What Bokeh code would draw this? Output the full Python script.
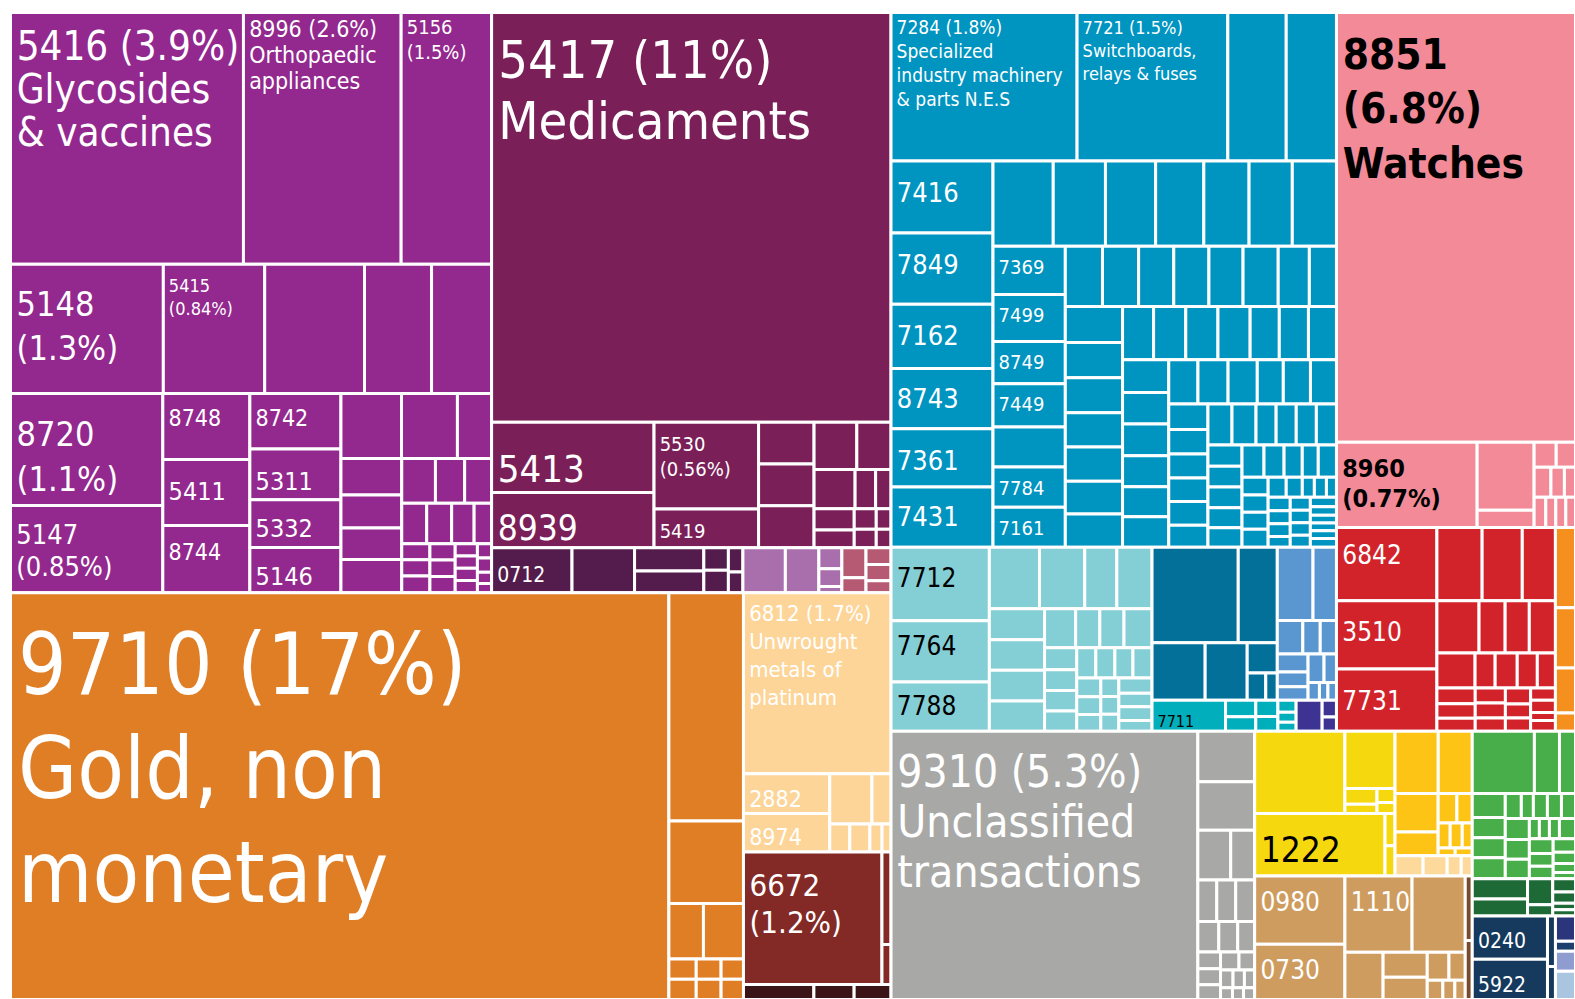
from bokeh.plotting import figure
from bokeh.models import ColumnDataSource, Range1d
from bokeh.core.properties import value
from bokeh.embed import file_html
from bokeh.resources import INLINE

# ---------------- data (relative export values) ----------------
purple_codes = ["5416", "8996", "5156", "5148", "5415", "", "", "", "8720", "5147",
                "8748", "5411", "8744", "8742", "5311", "5332", "5146"]
purple_values = [58.2, 39.4, 22.6, 19.6, 13.0, 12.8, 8.6, 7.7, 16.9, 13.2, 5.7, 5.7, 5.8,
                 5.0, 4.6, 4.3, 4.1, 3.9, 3.6, 2.2, 2.2, 2.0, 1.9, 2.0, 1.5, 1.3, 1.2,
                 1.0, 1.0, 0.9, 0.7, 0.45, 0.45, 0.47, 0.41, 0.41, 0.41, 0.27, 0.27,
                 0.27, 0.27, 0.2, 0.2, 0.16, 0.13]
medic_codes = ["5417", "5413", "8939", "5530", "5419"]
medic_values = [162.4, 11.3, 8.9, 9.0, 4.0, 2.3, 2.3, 2.3, 2.0, 1.6, 1.6, 0.8, 0.6,
                0.85, 0.7, 0.45, 0.4, 0.3, 0.27]
g0712_codes = ["0712"]
g0712_values = [3.6, 2.8, 1.6, 1.5, 0.55, 0.55, 0.35, 0.3]
lilac_values = [1.9, 1.5, 0.48, 0.41, 0.14]
mauve_values = [0.72, 0.36, 0.42, 0.4, 0.3]
gold_codes = ["9710"]
gold_values = [265.7, 16.9, 6.1, 1.9, 2.2, 0.55, 0.55, 0.5, 0.5, 0.45, 0.45]
peach_codes = ["6812", "2882", "8974"]
peach_values = [26.5, 3.4, 3.3, 2.1, 0.95, 0.56, 0.56, 0.34, 0.25]
pearl_codes = ["6672"]
pearl_values = [18.2, 0.83, 0.36]
darkred_values = [1.05, 0.6, 0.55]
blue_codes = ["7284", "7721", "", "", "7416", "7849", "7162", "8743", "7361", "7431",
              "", "", "", "", "", "", "", "7369", "7499", "8749", "7449", "", "7784", "7161"]
blue_values = [27.4, 22.2, 8.6, 7.4, 7.3, 7.2, 6.5, 6.1, 5.9, 6.1,
               5.1, 4.42, 4.25, 4.08, 3.83, 3.66, 3.74,
               3.46, 3.38, 3.02, 3.1, 2.88, 2.88, 2.88,
               2.22, 2.16, 2.1, 2.1, 2.04, 2.1, 1.86, 1.62,
               2.05, 2.0, 1.98, 1.95, 1.95, 1.85, 1.9,
               1.64, 1.7, 1.7, 1.7, 1.54, 1.54, 1.48,
               1.5, 1.45, 1.45, 1.42, 1.38, 1.4,
               1.28, 1.32, 1.28, 1.14, 1.19, 1.14,
               1.0, 0.95, 0.93, 0.92, 0.92, 0.86,
               0.98, 0.98, 0.82, 0.82, 0.82, 0.82,
               0.72, 0.7, 0.7, 0.68, 0.66,
               0.7, 0.64, 0.58, 0.51, 0.58,
               0.46, 0.45, 0.44, 0.47,
               0.36, 0.32, 0.24, 0.24, 0.2,
               0.3, 0.28, 0.28, 0.24,
               0.26, 0.25, 0.25, 0.24,
               0.25, 0.22, 0.2, 0.2, 0.2, 0.23]
cyan_codes = ["7712", "7764", "7788"]
cyan_values = [7.15, 5.98, 4.8, 3.05, 2.75, 1.95, 2.14, 1.7, 1.68, 1.68, 1.65, 1.21, 0.94,
               0.94, 1.09, 0.7, 0.66, 0.66, 0.64, 0.57, 0.57, 0.54, 0.57, 0.45, 0.42, 0.4,
               0.33, 0.32, 0.3, 0.5, 0.45, 0.45, 0.35]
darkblue_values = [8.17, 3.7, 3.02, 2.39, 0.9, 0.5, 0.31]
medblue_values = [2.59, 1.7, 0.85, 0.58, 0.54, 0.55, 0.45, 0.41, 0.45, 0.35, 0.2, 0.15, 0.15]
teal_codes = ["7711"]
teal_values = [2.26, 0.5, 0.43, 0.36, 0.32, 0.22, 0.18, 0.16]
indigo_values = [0.8, 0.24, 0.2]
pink_codes = ["8851", "8960"]
pink_values = [101.9, 11.9, 3.85, 0.97, 0.55, 0.48, 0.5, 0.4, 0.33, 0.35, 0.3, 0.3, 0.29]
red_codes = ["6842", "3510", "7731"]
red_values = [7.3, 6.8, 6.2, 3.29, 2.92, 2.41, 2.18, 1.35, 1.25, 1.35, 1.33, 0.7, 0.77,
              0.7, 0.63, 0.6, 0.55, 0.49, 0.45, 0.45, 0.39, 0.4, 0.35, 0.33, 0.3, 0.3,
              0.2, 0.26]
orange_values = [1.6, 1.2, 0.9, 0.36]
gray_codes = ["9310"]
gray_values = [81.7, 2.85, 2.74, 1.62, 1.18, 0.78, 0.78, 0.78, 0.63, 0.57, 0.51, 0.38,
               0.36, 0.33, 0.33, 0.28, 0.22, 0.2, 0.18, 0.14, 0.13, 0.13]
yellow_codes = ["", "", "", "", "", "", "1222"]
yellow_values = [7.38, 2.85, 0.5, 0.3, 0.25, 0.2, 8.06, 0.32, 0.3]
yorange_values = [2.67, 2.1, 1.65, 1.02, 0.55, 0.45, 0.3, 0.3, 0.25, 0.13, 0.13]
peach2_values = [0.56, 0.48, 0.28, 0.22]
tan_codes = ["0980", "0730", "1110"]
tan_values = [6.12, 4.95, 5.09, 4.03, 1.79, 1.1, 0.97, 0.6, 0.45, 0.3, 0.23, 0.2]
brown_values = [0.45, 0.41]
green_values = [3.84, 1.55, 0.99, 0.79, 0.66, 0.66, 0.69, 0.4, 0.3, 0.35, 0.35, 0.35, 0.5,
                0.47, 0.47, 0.2, 0.2, 0.2, 0.32, 0.35, 0.3, 0.3, 0.3, 0.25, 0.2, 0.14]
dgreen_values = [1.1, 0.94, 0.65, 0.28, 0.3, 0.25, 0.15, 0.14]
navy_codes = ["0240", "5922"]
navy_values = [3.23, 3.0, 0.4, 0.26]
misc_values = [0.5, 0.2, 0.4, 0.56]

shares = {"5416": "3.9%", "8996": "2.6%", "5156": "1.5%", "5148": "1.3%", "5415": "0.84%",
          "8720": "1.1%", "5147": "0.85%", "5417": "11%", "5530": "0.56%", "9710": "17%",
          "6812": "1.7%", "6672": "1.2%", "7284": "1.8%", "7721": "1.5%", "8851": "6.8%",
          "8960": "0.77%", "9310": "5.3%"}
names = {"5416": ["Glycosides", "& vaccines"], "8996": ["Orthopaedic", "appliances"],
         "5417": ["Medicaments"], "9710": ["Gold, non", "monetary"],
         "6812": ["Unwrought", "metals of", "platinum"],
         "7284": ["Specialized", "industry machinery", "& parts N.E.S"],
         "7721": ["Switchboards,", "relays & fuses"], "8851": ["Watches"],
         "9310": ["Unclassified", "transactions"]}

# ---------------- styles ----------------
palette = {"purple": "#93288E", "medic": "#7B1F58", "g0712": "#531C4D", "lilac": "#A96FAD",
           "mauve": "#B65A73", "gold": "#E07E26", "peach": "#FDD598", "pearl": "#832A27",
           "darkred": "#3B1417", "blue": "#0094C1", "cyan": "#84CED5", "darkblue": "#03709A",
           "medblue": "#5A96CF", "teal": "#00AFBB", "indigo": "#3C3393", "pink": "#F28B97",
           "red": "#D2232B", "orange": "#F5901F", "gray": "#A8A9A6", "yellow": "#F6D80F",
           "yorange": "#FDC416", "peach2": "#FDDA9B", "tan": "#CF9C5F", "brown": "#7A4A2A",
           "green": "#47AE49", "dgreen": "#1D6A37", "navy": "#153A5E",
           "misc": ["#2A357B", "#1E3F6E", "#8F9CD0", "#A9C5DF"]}

W_, K_ = "white", "black"
# label style: size px, first baseline offset, line lead, share on own line, colour, bold
label_style = {
    "5416": (40, 46, 43, False, W_, False), "8996": (23, 24, 26, False, W_, False),
    "5156": (20, 21, 25, True, W_, False), "5148": (34, 50, 45, True, W_, False),
    "5415": (18, 27, 23, True, W_, False), "8720": (34, 51, 45, True, W_, False),
    "5147": (27, 37, 33, True, W_, False), "8748": (23, 31, 0, False, W_, False),
    "5411": (25, 39, 0, False, W_, False), "8744": (23, 33, 0, False, W_, False),
    "8742": (23, 31, 0, False, W_, False), "5311": (25, 40, 0, False, W_, False),
    "5332": (25, 36, 0, False, W_, False), "5146": (25, 37, 0, False, W_, False),
    "5417": (52, 64, 61, False, W_, False), "5413": (38, 58, 0, False, W_, False),
    "8939": (35, 46, 0, False, W_, False), "5530": (20, 28, 25, True, W_, False),
    "5419": (20, 28, 0, False, W_, False), "0712": (21, 33, 0, False, W_, False),
    "9710": (85, 99, 104, False, W_, False), "6812": (22, 28, 28, False, W_, False),
    "2882": (23, 32, 0, False, W_, False), "8974": (23, 30, 0, False, W_, False),
    "6672": (31, 43, 37, True, W_, False), "7284": (19, 21, 24, False, W_, False),
    "7721": (18, 21, 23, False, W_, False),
    "7416": (27, 40, 0, False, W_, False), "7849": (27, 40, 0, False, W_, False),
    "7162": (27, 39, 0, False, W_, False), "8743": (27, 38, 0, False, W_, False),
    "7361": (27, 40, 0, False, W_, False), "7431": (27, 38, 0, False, W_, False),
    "7369": (20, 27, 0, False, W_, False), "7499": (20, 27, 0, False, W_, False),
    "8749": (20, 27, 0, False, W_, False), "7449": (20, 27, 0, False, W_, False),
    "7784": (20, 27, 0, False, W_, False), "7161": (20, 27, 0, False, W_, False),
    "8851": (42, 54, 55, True, K_, True), "8960": (25, 34, 30, True, K_, True),
    "6842": (26, 35, 0, False, W_, False), "3510": (26, 39, 0, False, W_, False),
    "7731": (26, 39, 0, False, W_, False),
    "7712": (26, 38, 0, False, K_, False), "7764": (26, 33, 0, False, K_, False),
    "7788": (26, 31, 0, False, K_, False), "7711": (16, 26, 0, False, K_, False),
    "9310": (44, 54, 50, False, W_, False), "1222": (35, 47, 0, False, K_, False),
    "0980": (26, 33, 0, False, W_, False), "1110": (26, 33, 0, False, W_, False),
    "0730": (26, 33, 0, False, W_, False), "0240": (21, 31, 0, False, W_, False),
    "5922": (21, 31, 0, False, W_, False),
}
FONT = "DejaVu Sans Condensed, sans-serif"
BASE_SHIFT = 0.32  # font-size fraction: browser baseline correction


def strips(spec):
    out, i = [], 0
    for d, n in spec:
        out.append((d, list(range(i, i + n))))
        i += n
    return ("s", out)


layouts = {
    "purple": ("v", [("h", [0, 1, 2]), ("h", [3, 4, 5, 6, 7]),
                     ("h", [("v", [8, 9]), ("v", [10, 11, 12]), ("v", [13, 14, 15, 16]),
                            ("v", [("h", [17, 18, 19]),
                                   ("h", [("v", [20, 21, 22, 23]),
                                          ("v", [("h", [24, 25, 26]), ("h", [27, 28, 29, 30]),
                                                 ("h", [("v", [31, 32, 33]), ("v", [34, 35, 36]),
                                                        ("v", [37, 38, 39, 40]),
                                                        ("v", [41, 42, 43, 44])])])])])])]),
    "medic": ("v", [0, ("h", [("v", [1, 2]), ("v", [3, 4]), ("v", [5, 6, 7]),
                              ("v", [("h", [8, 9]), ("h", [10, 11, 12]),
                                     ("h", [("v", [13, 14]), ("v", [15, 16]), ("v", [17, 18])])])])]),
    "g0712": ("h", [0, 1, ("v", [2, 3]), ("v", [4, 5]), ("v", [6, 7])]),
    "lilac": ("h", [0, 1, ("v", [2, 3, 4])]),
    "mauve": ("h", [("v", [0, 1]), ("v", [2, 3, 4])]),
    "gold": ("h", [0, ("v", [1, 2, ("h", [3, 4]),
                             ("h", [("v", [5, 6]), ("v", [7, 8]), ("v", [9, 10])])])]),
    "peach": ("v", [0, ("h", [("v", [1, 2]), ("v", [("h", [3, 4]), ("h", [5, 6, 7, 8])])])]),
    "pearl": ("h", [0, ("v", [1, 2])]),
    "darkred": ("h", [0, 1, 2]),
    "blue": strips([("row", 4), ("col", 6), ("row", 7), ("col", 7), ("row", 8), ("col", 7),
                    ("row", 7), ("col", 6), ("row", 6), ("col", 6), ("row", 6), ("col", 5),
                    ("row", 5), ("col", 4), ("row", 5), ("col", 4), ("col", 4), ("col", 6)]),
    "cyan": strips([("col", 3), ("row", 4), ("col", 4), ("row", 4), ("col", 4), ("row", 4),
                    ("col", 3), ("col", 3), ("col", 4)]),
    "darkblue": ("v", [("h", [0, 1]), ("h", [2, 3, ("v", [4, ("h", [5, 6])])])]),
    "medblue": ("v", [("h", [0, 1]), ("h", [2, 3, 4]),
                      ("h", [("v", [5, 6, 7]), ("v", [("h", [8, 9]), ("h", [10, 11, 12])])])]),
    "teal": ("h", [0, ("v", [1, 2]), ("v", [3, 4]), ("v", [5, 6, 7])]),
    "indigo": ("h", [0, ("v", [1, 2])]),
    "pink": ("v", [0, ("h", [1, ("v", [2, 3]),
                             ("v", [("h", [4, 5]), ("h", [6, 7, 8]), ("h", [9, 10, 11, 12])])])]),
    "red": strips([("col", 3), ("row", 3), ("row", 4), ("row", 5), ("col", 3), ("col", 3),
                   ("col", 3), ("col", 4)]),
    "orange": ("v", [0, 1, 2, 3]),
    "gray": ("h", [0, ("v", [1, 2, ("h", [3, 4]), ("h", [5, 6, 7]), ("h", [8, 9, 10]),
                             ("h", [("v", [11, 12, 13]),
                                    ("v", [("h", [14, 15]), ("h", [16, 17, 18]), ("h", [19, 20, 21])])])])]),
    "yellow": ("v", [("h", [0, ("v", [1, ("h", [("v", [2, 3]), ("v", [4, 5])])])]),
                     ("h", [6, ("v", [7, 8])])]),
    "yorange": ("v", [("h", [0, 1]), ("h", [("v", [2, 3]),
                                           ("v", [("h", [4, 5]), ("h", [6, 7, 8]), ("h", [9, 10])])])]),
    "peach2": ("h", [0, 1, 2, 3]),
    "tan": ("h", [("v", [0, 1]), ("v", [("h", [2, 3]),
                                        ("h", [4, ("v", [5, 6]), ("v", [("h", [7, 8]), ("h", [9, 10, 11])])])])]),
    "brown": ("v", [0, 1]),
    "green": strips([("row", 3), ("col", 4), ("row", 5), ("col", 3), ("row", 4), ("col", 3), ("col", 4)]),
    "dgreen": ("h", [("v", [0, 1]), ("v", [2, 3]), ("v", [4, 5, 6, 7])]),
    "navy": ("h", [("v", [0, 1]), ("v", [2, 3])]),
    "misc": ("v", [0, 1, 2, 3]),
}

groups = {
    "purple": (purple_codes, purple_values), "medic": (medic_codes, medic_values),
    "g0712": (g0712_codes, g0712_values), "lilac": ([], lilac_values), "mauve": ([], mauve_values),
    "gold": (gold_codes, gold_values), "peach": (peach_codes, peach_values),
    "pearl": (pearl_codes, pearl_values), "darkred": ([], darkred_values),
    "blue": (blue_codes, blue_values), "cyan": (cyan_codes, cyan_values),
    "darkblue": ([], darkblue_values), "medblue": ([], medblue_values),
    "teal": (teal_codes, teal_values), "indigo": ([], indigo_values),
    "pink": (pink_codes, pink_values), "red": (red_codes, red_values),
    "orange": ([], orange_values), "gray": (gray_codes, gray_values),
    "yellow": (yellow_codes, yellow_values), "yorange": ([], yorange_values),
    "peach2": ([], peach2_values), "tan": (tan_codes, tan_values), "brown": ([], brown_values),
    "green": ([], green_values), "dgreen": ([], dgreen_values), "navy": (navy_codes, navy_values),
    "misc": ([], misc_values),
}

root = ("h", [
    ("v", [("h", ["purple", ("v", ["medic", ("h", ["g0712", "lilac", "mauve"])])]),
           ("h", ["gold", ("v", ["peach", "pearl", "darkred"])])]),
    ("v", [("h", [("v", ["blue", ("h", ["cyan", ("v", [("h", ["darkblue", "medblue"]),
                                                        ("h", ["teal", "indigo"])])])]),
                  ("v", ["pink", ("h", ["red", "orange"])])]),
           ("h", ["gray",
                  ("v", [("h", ["yellow", ("v", ["yorange", "peach2"])]), ("h", ["tan", "brown"])]),
                  ("v", ["green", "dgreen", ("h", ["navy", "misc"])])])]),
])


def weight(node, g):
    if isinstance(node, int):
        return groups[g][1][node]
    if isinstance(node, str):
        return weight(layouts[node], node)
    kind, kids = node
    if kind == "s":
        return sum(weight(c, g) for _, items in kids for c in items)
    return sum(weight(c, g) for c in kids)


cells = []


def place(node, g, x0, y0, x1, y1):
    if isinstance(node, int):
        codes, _ = groups[g]
        col = palette[g]
        if isinstance(col, list):
            col = col[node]
        code = codes[node] if node < len(codes) else ""
        cells.append((x0, y0, x1, y1, col, code))
        return
    if isinstance(node, str):
        place(layouts[node], node, x0, y0, x1, y1)
        return
    kind, kids = node
    if kind == "s":
        rem = weight(node, g)
        for d, items in kids:
            ws = sum(weight(c, g) for c in items)
            if d == "row":
                h = (y1 - y0) * ws / rem
                place(("h", items), g, x0, y0, x1, y0 + h)
                y0 += h
            else:
                w = (x1 - x0) * ws / rem
                place(("v", items), g, x0, y0, x0 + w, y1)
                x0 += w
            rem -= ws
        return
    tot = sum(weight(c, g) for c in kids)
    cur = x0 if kind == "h" else y0
    for c in kids:
        frac = weight(c, g) / tot
        if kind == "h":
            w = (x1 - x0) * frac
            place(c, g, cur, y0, cur + w, y1)
            cur += w
        else:
            h = (y1 - y0) * frac
            place(c, g, x0, cur, x1, cur + h)
            cur += h


place(root, None, 10, 12, 1575, 999)

rect_src = ColumnDataSource(dict(
    x0=[c[0] for c in cells], y0=[c[1] for c in cells],
    x1=[c[2] for c in cells], y1=[c[3] for c in cells],
    color=[c[4] for c in cells]))

tx, ty, tt, ts, tc, tf = [], [], [], [], [], []
for x0, y0, x1, y1, col, code in cells:
    if code not in label_style:
        continue
    size, b1, lead, own_line, tcol, bold = label_style[code]
    if code in shares:
        lines = [code, "(" + shares[code] + ")"] if own_line else [code + " (" + shares[code] + ")"]
    else:
        lines = [code]
    lines += names.get(code, [])
    for i, line in enumerate(lines):
        tx.append(x0 + 5 + 0.03 * size)
        ty.append(y0 + b1 - BASE_SHIFT * size + i * lead)
        tt.append(line)
        ts.append(f"{size}px")
        tc.append(tcol)
        tf.append("bold" if bold else "normal")
text_src = ColumnDataSource(dict(x=tx, y=ty, text=tt, size=ts, color=tc, style=tf))

p = figure(width=1575, height=999, x_range=Range1d(0, 1575), y_range=Range1d(999, 0),
           output_backend="svg", toolbar_location=None, min_border=0)
p.axis.visible = False
p.grid.visible = False
p.outline_line_color = None
p.background_fill_color = "white"
p.border_fill_color = "white"

p.quad(left="x0", right="x1", top="y0", bottom="y1", fill_color="color",
       line_color="white", line_width=3, source=rect_src)
p.text(x="x", y="y", text="text", text_font=value(FONT), text_font_size="size",
       text_color="color", text_font_style="style", text_baseline="alphabetic",
       text_align="left", source=text_src)

open("out.html", "w").write(file_html(p, INLINE))
